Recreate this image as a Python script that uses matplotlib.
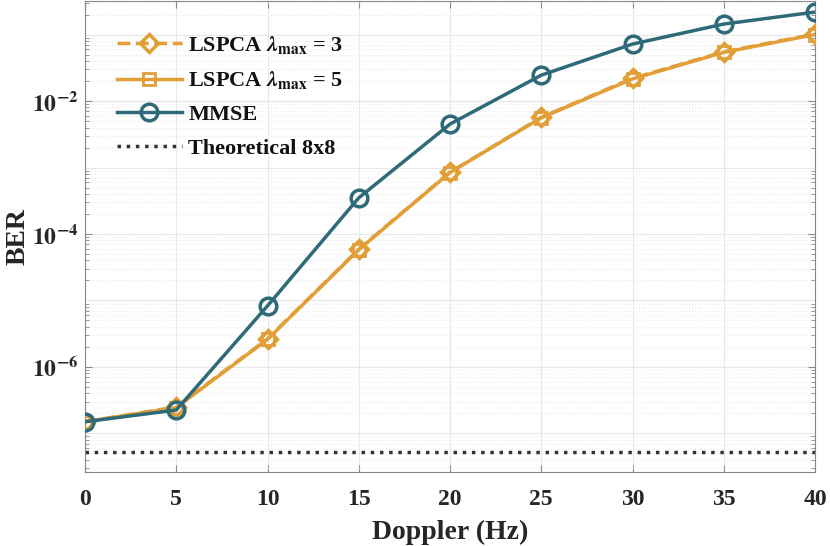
import numpy as np
import matplotlib
matplotlib.use("Agg")
import matplotlib.pyplot as plt
from matplotlib.ticker import LogLocator, NullFormatter

doppler = [0, 5, 10, 15, 20, 25, 30, 35, 40]
ber_lspca3 = [1.5e-7, 2.5e-7, 2.65e-6, 5.9e-5, 8.5e-4, 5.7e-3, 2.2e-2, 5.5e-2, 1.02e-1]
ber_lspca5 = [1.5e-7, 2.45e-7, 2.6e-6, 5.8e-5, 8.4e-4, 5.6e-3, 2.15e-2, 5.4e-2, 1.0e-1]
ber_mmse = [1.5e-7, 2.25e-7, 8.3e-6, 3.5e-4, 4.5e-3, 2.45e-2, 7.2e-2, 1.44e-1, 2.18e-1]
ber_theory = 5.3e-8
ytick_vals = [1e-6, 1e-4, 1e-2]
ytick_labels = [r'$\mathbf{10^{-6}}$', r'$\mathbf{10^{-4}}$', r'$\mathbf{10^{-2}}$']

plt.rcParams['font.family'] = ['Liberation Serif', 'DejaVu Serif']
plt.rcParams['font.weight'] = 'bold'
plt.rcParams['mathtext.fontset'] = 'stix'

orange = '#E29F38'
teal = '#2E6A78'

fig = plt.figure(figsize=(8.3, 5.46), dpi=100)
ax = fig.add_axes([85/830, 74/546, 730/830, 471/546])

ax.plot(doppler, ber_lspca3, '--', color=orange, lw=2.5, marker='D', ms=9,
        mfc='none', mec=orange, mew=2.5,
        label=r'LSPCA $\mathbfit{\lambda}_{\mathbf{max}}$ = 3', zorder=3)
ax.plot(doppler, ber_lspca5, '-', color=orange, lw=2.5, marker='s', ms=8,
        mfc='none', mec=orange, mew=2.0,
        label=r'LSPCA $\mathbfit{\lambda}_{\mathbf{max}}$ = 5', zorder=3)
ax.plot(doppler, ber_mmse, '-', color=teal, lw=2.5, marker='o', ms=12,
        mfc='none', mec=teal, mew=2.5, label='MMSE', zorder=4)
ax.axhline(ber_theory, color='#333333', ls=':', lw=2.5, label='Theoretical 8x8', zorder=2)

ax.set_yscale('log')
ax.set_xlim(0, 40)
ax.set_ylim(10**-7.58, 10**-0.495)
ax.set_xticks(doppler)
ax.yaxis.set_major_locator(LogLocator(base=10, numticks=20))
ax.yaxis.set_minor_locator(LogLocator(base=10, subs=np.arange(2, 10), numticks=20))
ax.yaxis.set_minor_formatter(NullFormatter())
ax.set_yticks(ytick_vals)
ax.set_yticklabels(ytick_labels)

ax.grid(True, which='major', color='#e8e8e8', lw=0.8)
ax.grid(True, which='minor', axis='y', color='#ececec', lw=0.8, ls=':')
for d in range(-8, 0):
    ax.axhline(10.0**d, color='#e8e8e8', lw=0.8, zorder=0)

ax.tick_params(which='both', direction='in', colors='#888888', labelcolor='#262626',
               labelsize=17, top=True, right=True)
ax.tick_params(which='major', length=5)
ax.tick_params(which='minor', length=3)
ax.tick_params(axis='x', pad=12)
ax.tick_params(axis='y', pad=5)
for s in ax.spines.values():
    s.set_color('#888888')
    s.set_linewidth(0.8)

ax.set_xlabel('Doppler (Hz)', fontsize=20, fontweight='bold', color='#262626', labelpad=7)
ax.set_ylabel('BER', fontsize=20, fontweight='bold', color='#262626')
ax.yaxis.set_label_coords(-0.074, 0.5)

leg = ax.legend(loc='upper left', bbox_to_anchor=(0.044, 0.93), frameon=False,
                fontsize=16, handlelength=2.9, handletextpad=0.3, labelspacing=0.6,
                borderaxespad=0, borderpad=0)
for t in leg.get_texts():
    t.set_color('#111111')
    t.set_fontweight('bold')

fig.savefig('out.png', dpi=100)
